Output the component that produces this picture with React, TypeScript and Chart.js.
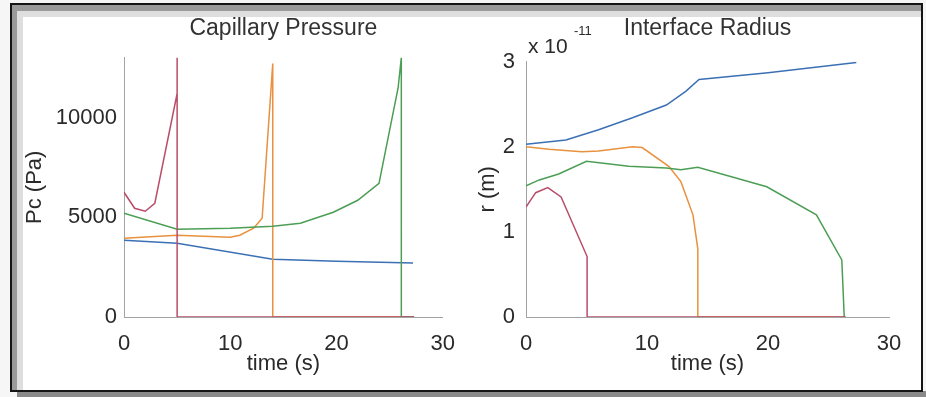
import React, { useEffect, useRef } from "react";
import { Chart, registerables } from "chart.js";

Chart.register(...registerables);

const FONT = "'Liberation Sans', Arial, Helvetica, sans-serif";

// ---- tick labels ----
const TIME_TICKS = [0, 10, 20, 30];
const PC_TICKS = [0, 5000, 10000];
const R_TICKS = [0, 1, 2, 3];

// ---- Capillary Pressure (Pa) ----
const pcRedT = [0, 1, 2, 2.9, 5, 5, 5, 27.3];
const pcRedV = [6250, 5450, 5300, 5700, 11200, 13000, 0, 0];
const pcOrangeT = [0, 5, 10, 10.9, 12.2, 13, 14, 14, 27.3];
const pcOrangeV = [3950, 4100, 4000, 4100, 4450, 4950, 12700, 0, 0];
const pcGreenT = [0, 5, 10, 14, 16.6, 19.7, 22, 24, 25.8, 26.1, 26.1, 27.3];
const pcGreenV = [5200, 4400, 4450, 4550, 4700, 5250, 5850, 6700, 11500, 13000, 0, 0];
const pcBlueT = [0, 5, 14, 20, 27.2];
const pcBlueV = [3850, 3700, 2900, 2800, 2700];

// ---- Interface Radius (x 1e-11 m) ----
const rRedT = [0, 0.8, 1.8, 2.9, 5.05, 5.05, 26.4];
const rRedV = [1.29, 1.46, 1.52, 1.41, 0.71, 0, 0];
const rOrangeT = [0, 1.9, 4.6, 6, 8.8, 9.6, 11.8, 12.8, 13.8, 14.2, 14.2, 26.4];
const rOrangeV = [2.0, 1.97, 1.94, 1.95, 2.0, 1.99, 1.77, 1.59, 1.2, 0.8, 0, 0];
const rGreenT = [0, 1.1, 2.7, 5, 8.5, 11.6, 12.8, 14.2, 19.9, 24, 26.1, 26.3, 26.4];
const rGreenV = [1.54, 1.61, 1.68, 1.83, 1.77, 1.75, 1.73, 1.76, 1.53, 1.2, 0.67, 0, 0];
const rBlueT = [0, 3.3, 6, 8.8, 11.6, 13.2, 14.3, 20, 27.3];
const rBlueV = [2.03, 2.08, 2.2, 2.34, 2.49, 2.65, 2.79, 2.87, 2.99];

const RED = "#b94d6a";
const ORANGE = "#e8913e";
const GREEN = "#4c9e55";
const BLUE = "#3c70b4";
const TEXT = "#2a2a2a";
const AXIS = "#a3a3a3";

const xy = (t: number[], v: number[]) => t.map((x, i) => ({ x, y: v[i] }));

const ds = (label: string, t: number[], v: number[], color: string) => ({
  label,
  data: xy(t, v),
  borderColor: color,
  backgroundColor: color,
  borderWidth: 1.5,
  pointRadius: 0,
  tension: 0,
  fill: false,
});

const expoPlugin = {
  id: "expo",
  afterDraw(chart: any, _args: any, opts: any) {
    if (!opts || !opts.show) return;
    const { ctx, chartArea } = chart;
    ctx.save();
    ctx.fillStyle = TEXT;
    ctx.textBaseline = "middle";
    ctx.textAlign = "left";
    ctx.font = `21px ${FONT}`;
    ctx.fillText("x 10", chartArea.left + 2, chartArea.top - 14);
    ctx.font = `13px ${FONT}`;
    ctx.fillText("-11", chartArea.left + 48, chartArea.top - 30);
    ctx.restore();
  },
};

function makeOptions(p: {
  title: string;
  yTitle: string;
  yMax: number;
  yTicks: number[];
  yWidth: number;
  yPad: number;
  yTitlePad: number;
  padRight: number;
  titlePadBottom: number;
  expo: boolean;
}) {
  return {
    responsive: false,
    animation: false,
    devicePixelRatio: 1,
    layout: { padding: { left: 0, right: p.padRight, top: 0, bottom: 0 } },
    plugins: {
      legend: { display: false },
      tooltip: { enabled: false },
      title: {
        display: true,
        text: p.title,
        fullSize: false,
        color: "#333",
        font: { size: 23, family: FONT, weight: "normal" },
        padding: { top: 10, bottom: p.titlePadBottom },
      },
      expo: { show: p.expo },
    },
    scales: {
      x: {
        type: "linear",
        min: 0,
        max: 30,
        afterBuildTicks: (s: any) => {
          s.ticks = TIME_TICKS.map((value) => ({ value }));
        },
        afterFit: (s: any) => {
          s.height = 71;
        },
        grid: { display: false, drawTicks: false },
        border: { display: true, color: AXIS, width: 1 },
        ticks: {
          padding: 14,
          color: TEXT,
          maxRotation: 0,
          autoSkip: false,
          font: { size: 22, family: FONT },
          callback: (v: any) => String(v),
        },
        title: {
          display: true,
          text: "time (s)",
          color: TEXT,
          font: { size: 22, family: FONT },
          padding: { top: 0, bottom: 11 },
        },
      },
      y: {
        type: "linear",
        min: 0,
        max: p.yMax,
        afterBuildTicks: (s: any) => {
          s.ticks = p.yTicks.map((value) => ({ value }));
        },
        afterFit: (s: any) => {
          s.width = p.yWidth;
        },
        grid: { display: false, drawTicks: false },
        border: { display: true, color: AXIS, width: 1 },
        ticks: {
          padding: p.yPad,
          color: TEXT,
          autoSkip: false,
          font: { size: 22, family: FONT },
          callback: (v: any) => String(v),
        },
        title: {
          display: true,
          text: p.yTitle,
          color: TEXT,
          font: { size: 22, family: FONT },
          padding: { top: p.yTitlePad, bottom: 0 },
        },
      },
    },
  };
}

function Panel(props: { left: number; top: number; width: number; height: number; config: any }) {
  const ref = useRef<HTMLCanvasElement | null>(null);
  useEffect(() => {
    if (!ref.current) return;
    const chart = new Chart(ref.current, props.config);
    return () => chart.destroy();
  }, []);
  return (
    <canvas
      ref={ref}
      width={props.width}
      height={props.height}
      style={{
        position: "absolute",
        left: props.left,
        top: props.top,
        width: props.width,
        height: props.height,
        zIndex: 2,
      }}
    />
  );
}

export default function App() {
  Chart.defaults.font.family = FONT;

  const pcConfig = {
    type: "line",
    data: {
      datasets: [
        ds("red", pcRedT, pcRedV, RED),
        ds("green", pcGreenT, pcGreenV, GREEN),
        ds("orange", pcOrangeT, pcOrangeV, ORANGE),
        ds("blue", pcBlueT, pcBlueV, BLUE),
      ],
    },
    options: makeOptions({
      title: "Capillary Pressure",
      yTitle: "Pc (Pa)",
      yMax: 13000,
      yTicks: PC_TICKS,
      yWidth: 102,
      yPad: 7,
      yTitlePad: 0,
      padRight: 26,
      titlePadBottom: 15,
      expo: false,
    }),
    plugins: [expoPlugin],
  };

  const rConfig = {
    type: "line",
    data: {
      datasets: [
        ds("red", rRedT, rRedV, RED),
        ds("green", rGreenT, rGreenV, GREEN),
        ds("orange", rOrangeT, rOrangeV, ORANGE),
        ds("blue", rBlueT, rBlueV, BLUE),
      ],
    },
    options: makeOptions({
      title: "Interface Radius",
      yTitle: "r (m)",
      yMax: 3,
      yTicks: R_TICKS,
      yWidth: 63,
      yPad: 11,
      yTitlePad: 12,
      padRight: 31,
      titlePadBottom: 19,
      expo: true,
    }),
    plugins: [expoPlugin],
  };

  return (
    <div
      style={{
        position: "fixed",
        left: 0,
        top: 0,
        width: 926,
        height: 397,
        background: "#f6f6f6",
        overflow: "hidden",
      }}
    >
      <div
        style={{
          position: "absolute",
          left: 17,
          top: 391,
          width: 909,
          height: 6,
          background: "#8a8a8a",
        }}
      />
      <div
        style={{
          position: "absolute",
          left: 10,
          top: 3,
          width: 913,
          height: 389,
          boxSizing: "border-box",
          border: "2px solid #151515",
          background: "#ffffff",
          boxShadow: "inset 5px 6px 0 #9a9a9a, inset 11px 12px 0 #dedede",
        }}
      />
      <Panel left={22} top={5} width={447} height={383} config={pcConfig} />
      <Panel left={463} top={5} width={457} height={383} config={rConfig} />
    </div>
  );
}
